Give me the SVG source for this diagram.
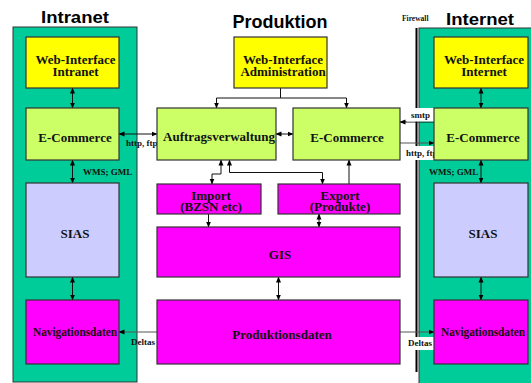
<svg xmlns="http://www.w3.org/2000/svg" width="531" height="383" viewBox="0 0 531 383">
<defs>
<marker id="ah" markerUnits="userSpaceOnUse" markerWidth="6" markerHeight="6" refX="5.5" refY="3" orient="auto-start-reverse">
<path d="M0,0.5 L6,3 L0,5.5 z" fill="#000"/>
</marker>
<style>
.title{font-family:"Liberation Sans",Arial,sans-serif;font-weight:bold;font-size:17px;fill:#000;text-anchor:middle}
.cont{fill:#00CC99;stroke:#333;stroke-width:1}
.box{stroke:#333;stroke-width:1.2}
.yel{fill:#FFFF00}
.lg{fill:#CCFF66}
.lav{fill:#CCCCFF}
.mag{fill:#FF00FF}
.bt{font-family:"Liberation Serif","Times New Roman",serif;font-weight:bold;font-size:13px;fill:#111;text-anchor:middle}
.lbl{font-family:"Liberation Serif","Times New Roman",serif;font-weight:bold;font-size:9px;fill:#111}
.c{fill:none;stroke:#111;stroke-width:1}
.cg{fill:none;stroke:#555;stroke-width:1}
.a1{marker-end:url(#ah)}
.a2{marker-start:url(#ah);marker-end:url(#ah)}
.wbg{fill:#fff}
</style>
</defs>
<rect width="531" height="383" fill="#fff"/>

<g id="intranet">
<rect class="cont" x="13" y="27" width="124" height="355"/>
<text class="title" x="75" y="23" textLength="68" lengthAdjust="spacingAndGlyphs">Intranet</text>
</g>
<g id="produktion-title">
<text class="title" x="280" y="28" font-size="18" style="font-size:18px">Produktion</text>
</g>
<g id="internet">
<rect class="cont" x="419" y="28" width="120" height="360"/>
<text class="title" x="480" y="25" textLength="68" lengthAdjust="spacingAndGlyphs">Internet</text>
</g>
<g id="firewall">
<line x1="416.5" y1="28" x2="416.5" y2="372" stroke="#000" stroke-width="2"/>
<text class="lbl" x="402" y="21" style="font-size:7.5px">Firewall</text>
</g>

<g id="connectors">
<!-- intranet vertical -->
<line class="c a2" x1="72.5" y1="88" x2="72.5" y2="108"/>
<line class="c a2" x1="72.5" y1="160" x2="72.5" y2="183"/>
<line class="c a2" x1="72.5" y1="277" x2="72.5" y2="300"/>
<!-- internet vertical -->
<line class="c a2" x1="481" y1="88" x2="481" y2="108"/>
<line class="c a2" x1="481" y1="160" x2="481" y2="183"/>
<line class="c a2" x1="481" y1="277" x2="481" y2="300"/>
<!-- admin tree -->
<path class="c" d="M280.5,88 V98"/>
<path class="c a1" d="M280.5,98 H216.5 V108"/>
<path class="c a1" d="M280.5,98 H346.5 V108"/>
<!-- intranet ecommerce <-> auftrags -->
<line class="c a2" x1="119" y1="134" x2="157" y2="134"/>
<!-- auftrags <-> ecommerce -->
<line class="c a2" x1="276" y1="134" x2="293" y2="134"/>
<!-- auftrags <-> import -->
<path class="c a2" d="M221,160 V174 H212 V184"/>
<!-- auftrags <-> export -->
<path class="c a2" d="M229.5,160 V172.5 H322.5 V184"/>
<!-- export -> ecommerce -->
<line class="c a1" x1="349" y1="184" x2="349" y2="160"/>
<!-- import -> gis -->
<line class="c a1" x1="208.5" y1="214" x2="208.5" y2="227"/>
<!-- export <-> gis -->
<line class="c a2" x1="319" y1="214" x2="319" y2="227"/>
<!-- gis <-> produktionsdaten -->
<line class="c a2" x1="278.5" y1="277" x2="278.5" y2="300"/>
<!-- deltas -->
<line class="cg a1" x1="157" y1="332" x2="119" y2="332"/>
<line class="cg a1" x1="400" y1="332" x2="434" y2="332"/>
<!-- http to internet -->
<line class="cg a1" x1="400" y1="143" x2="434" y2="143"/>
<!-- smtp -->
<line class="c a1" x1="434" y1="122" x2="400" y2="122"/>
<!-- labels -->
<text class="lbl" x="126" y="146">http, ftp</text>
<text class="lbl" x="83" y="175">WMS; GML</text>
<text class="lbl" x="429" y="175">WMS; GML</text>
<text class="lbl" x="131" y="345">Deltas</text>
<rect class="wbg" x="407" y="108" width="27" height="13.5"/>
<text class="lbl" x="411" y="118">smtp</text>
<rect class="wbg" x="405" y="146" width="29" height="14"/>
<text class="lbl" x="406" y="156">http, ftp</text>
<rect class="wbg" x="407" y="337" width="27" height="13"/>
<text class="lbl" x="408" y="346">Deltas</text>
</g>

<g id="web-intranet">
<rect class="box yel" x="26" y="37" width="93" height="51"/>
<text class="bt" x="75.5" y="64">Web-Interface</text>
<text class="bt" x="75.5" y="76">Intranet</text>
</g>
<g id="ecommerce-intranet">
<rect class="box lg" x="26" y="108" width="93" height="52"/>
<text class="bt" x="75" y="142">E-Commerce</text>
</g>
<g id="sias-intranet">
<rect class="box lav" x="26" y="183" width="93" height="94"/>
<text class="bt" x="75" y="238">SIAS</text>
</g>
<g id="nav-intranet">
<rect class="box mag" x="26" y="300" width="93" height="64"/>
<text class="bt" x="75" y="336" textLength="84" lengthAdjust="spacingAndGlyphs">Navigationsdaten</text>
</g>

<g id="web-admin">
<rect class="box yel" x="234" y="37" width="93" height="51"/>
<text class="bt" x="283" y="64">Web-Interface</text>
<text class="bt" x="283" y="76">Administration</text>
</g>
<g id="auftragsverwaltung">
<rect class="box lg" x="157" y="108" width="119" height="52"/>
<text class="bt" x="219" y="141">Auftragsverwaltung</text>
</g>
<g id="ecommerce-produktion">
<rect class="box lg" x="293" y="108" width="107" height="52"/>
<text class="bt" x="347" y="142">E-Commerce</text>
</g>
<g id="import">
<rect class="box mag" x="157" y="184" width="104" height="30"/>
<text class="bt" x="211" y="200">Import</text>
<text class="bt" x="211" y="211">(BZSN etc)</text>
</g>
<g id="export">
<rect class="box mag" x="278" y="184" width="122" height="30"/>
<text class="bt" x="340" y="200">Export</text>
<text class="bt" x="340" y="211">(Produkte)</text>
</g>
<g id="gis">
<rect class="box mag" x="157" y="227" width="243" height="50"/>
<text class="bt" x="280" y="259">GIS</text>
</g>
<g id="produktionsdaten">
<rect class="box mag" x="157" y="300" width="243" height="64"/>
<text class="bt" x="282" y="339">Produktionsdaten</text>
</g>

<g id="web-internet">
<rect class="box yel" x="434" y="37" width="94" height="51"/>
<text class="bt" x="484" y="64">Web-Interface</text>
<text class="bt" x="484" y="76">Internet</text>
</g>
<g id="ecommerce-internet">
<rect class="box lg" x="434" y="108" width="94" height="52"/>
<text class="bt" x="483" y="142">E-Commerce</text>
</g>
<g id="sias-internet">
<rect class="box lav" x="434" y="183" width="94" height="94"/>
<text class="bt" x="483" y="238">SIAS</text>
</g>
<g id="nav-internet">
<rect class="box mag" x="434" y="300" width="94" height="64"/>
<text class="bt" x="483" y="336" textLength="84" lengthAdjust="spacingAndGlyphs">Navigationsdaten</text>
</g>
</svg>
